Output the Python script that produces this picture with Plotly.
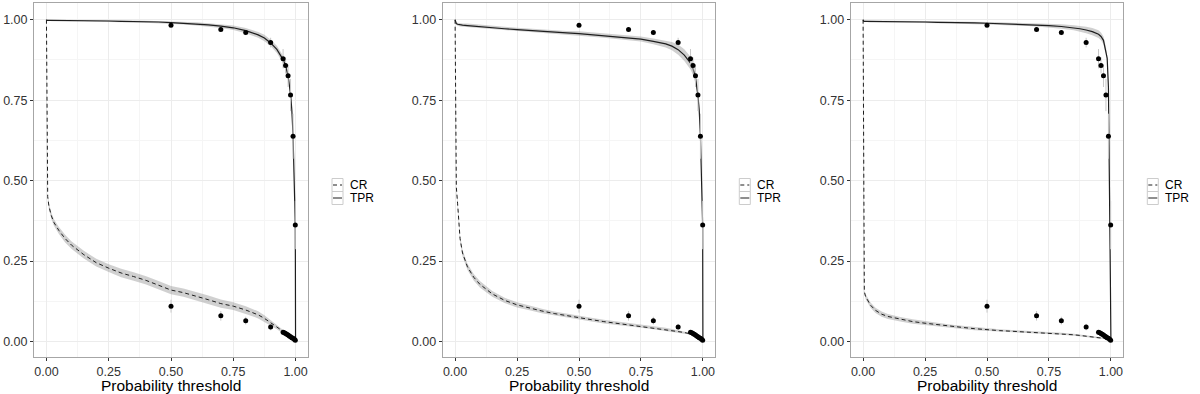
import plotly.graph_objects as go

# ---------------- data ----------------
grid = [0, 0.001, 0.003, 0.005, 0.01, 0.02, 0.03, 0.05, 0.075, 0.1, 0.15, 0.2, 0.25, 0.3, 0.35,
        0.4, 0.45, 0.5, 0.55, 0.6, 0.65, 0.7, 0.75, 0.8, 0.85, 0.875, 0.9, 0.925, 0.95, 0.96,
        0.97, 0.98, 0.985, 0.99, 0.993, 0.996, 0.998, 0.999, 1.0]

p1_tpr = [1.0, 0.998, 0.998, 0.998, 0.998, 0.998, 0.998, 0.998, 0.997, 0.997, 0.997, 0.996, 0.996,
          0.995, 0.995, 0.994, 0.993, 0.991, 0.989, 0.987, 0.984, 0.980, 0.975, 0.966, 0.953, 0.943,
          0.928, 0.908, 0.876, 0.857, 0.826, 0.768, 0.72, 0.64, 0.56, 0.46, 0.39, 0.36, 0.005]
p1_tpr_band = [0, 0.001, 0.002, 0.002, 0.002, 0.002, 0.002, 0.002, 0.002, 0.002, 0.002, 0.002, 0.002,
               0.003, 0.003, 0.003, 0.003, 0.004, 0.004, 0.005, 0.005, 0.006, 0.007, 0.008, 0.009,
               0.01, 0.01, 0.011, 0.012, 0.012, 0.012, 0.012, 0.012, 0.012, 0.01, 0.008, 0.006, 0.005, 0]
p1_cr = [1.0, 0.75, 0.50, 0.45, 0.42, 0.39, 0.37, 0.345, 0.32, 0.30, 0.27, 0.245, 0.228, 0.213,
         0.202, 0.19, 0.175, 0.16, 0.152, 0.142, 0.13, 0.118, 0.11, 0.098, 0.083, 0.072, 0.058,
         0.045, 0.03, 0.025, 0.02, 0.015, 0.012, 0.01, 0.008, 0.007, 0.006, 0.005, 0.004]
p1_cr_band = [0, 0, 0.005, 0.008, 0.01, 0.01, 0.01, 0.011, 0.012, 0.012, 0.012, 0.012, 0.012, 0.013,
              0.013, 0.013, 0.013, 0.013, 0.013, 0.013, 0.013, 0.013, 0.012, 0.012, 0.011, 0.01,
              0.009, 0.007, 0.005, 0.004, 0.003, 0.003, 0.002, 0.002, 0.002, 0.001, 0.001, 0.001, 0]

p2_tpr = [1.0, 0.995, 0.99, 0.988, 0.986, 0.984, 0.983, 0.982, 0.98, 0.978, 0.975, 0.972, 0.969,
          0.966, 0.963, 0.961, 0.959, 0.957, 0.954, 0.951, 0.948, 0.944, 0.94, 0.933, 0.925, 0.918,
          0.907, 0.89, 0.865, 0.848, 0.82, 0.765, 0.72, 0.64, 0.56, 0.46, 0.39, 0.36, 0.005]
p2_tpr_band = [0, 0.002, 0.004, 0.005, 0.005, 0.005, 0.005, 0.006, 0.006, 0.006, 0.006, 0.006, 0.006,
               0.006, 0.006, 0.006, 0.006, 0.007, 0.007, 0.007, 0.007, 0.008, 0.008, 0.009, 0.011,
               0.013, 0.016, 0.018, 0.02, 0.02, 0.018, 0.015, 0.013, 0.01, 0.008, 0.006, 0.005, 0.004, 0]
p2_cr = [1.0, 0.8, 0.55, 0.48, 0.43, 0.32, 0.275, 0.232, 0.2, 0.178, 0.148, 0.128, 0.114, 0.104,
         0.095, 0.087, 0.08, 0.074, 0.068, 0.062, 0.057, 0.053, 0.048, 0.043, 0.038, 0.035, 0.031,
         0.028, 0.025, 0.022, 0.018, 0.014, 0.011, 0.009, 0.007, 0.006, 0.005, 0.005, 0.004]
p2_cr_band = [0, 0, 0.005, 0.008, 0.01, 0.01, 0.01, 0.01, 0.01, 0.01, 0.009, 0.008, 0.008, 0.007,
              0.007, 0.006, 0.006, 0.006, 0.006, 0.006, 0.006, 0.006, 0.005, 0.005, 0.005, 0.004,
              0.004, 0.004, 0.003, 0.003, 0.003, 0.002, 0.002, 0.002, 0.001, 0.001, 0.001, 0.001, 0]

p3_tpr = [1.0, 0.996, 0.995, 0.995, 0.995, 0.995, 0.995, 0.995, 0.995, 0.994, 0.994, 0.993, 0.993,
          0.992, 0.992, 0.991, 0.990, 0.989, 0.988, 0.987, 0.986, 0.984, 0.982, 0.979, 0.975, 0.972,
          0.968, 0.963, 0.955, 0.948, 0.936, 0.905, 0.88, 0.79, 0.62, 0.36, 0.18, 0.09, 0.005]
p3_tpr_band = [0, 0.002, 0.003, 0.003, 0.003, 0.003, 0.003, 0.003, 0.003, 0.003, 0.003, 0.003, 0.003,
               0.003, 0.003, 0.003, 0.004, 0.004, 0.004, 0.004, 0.005, 0.005, 0.006, 0.007, 0.008,
               0.009, 0.01, 0.011, 0.012, 0.012, 0.012, 0.01, 0.01, 0.01, 0.008, 0.006, 0.004, 0.002, 0]
p3_cr = [1.0, 0.6, 0.2, 0.155, 0.14, 0.125, 0.113, 0.097, 0.085, 0.078, 0.069, 0.062, 0.057, 0.052,
         0.048, 0.044, 0.04, 0.036, 0.034, 0.032, 0.03, 0.029, 0.027, 0.024, 0.021, 0.019, 0.017,
         0.015, 0.012, 0.011, 0.01, 0.008, 0.007, 0.006, 0.006, 0.005, 0.005, 0.005, 0.004]
p3_cr_band = [0, 0, 0.004, 0.006, 0.008, 0.008, 0.008, 0.008, 0.008, 0.008, 0.007, 0.007, 0.006,
              0.006, 0.005, 0.005, 0.005, 0.005, 0.004, 0.004, 0.004, 0.004, 0.004, 0.003, 0.003,
              0.003, 0.003, 0.003, 0.002, 0.002, 0.002, 0.002, 0.002, 0.001, 0.001, 0.001, 0.001, 0.001, 0]

# observed points (shared by all panels)
tpr_pts_x = [0.5, 0.7, 0.8, 0.9, 0.95, 0.96, 0.97, 0.98, 0.99, 0.999]
tpr_pts_y = [0.983, 0.970, 0.960, 0.929, 0.879, 0.858, 0.826, 0.766, 0.638, 0.362]
tpr_pts_err = [0.006, 0.006, 0.008, 0.015, 0.03, 0.025, 0.035, 0.05, 0.07, 0.075]

cr_pts_x = [0.5, 0.7, 0.8, 0.9, 0.95, 0.955, 0.96, 0.965, 0.97, 0.975, 0.98, 0.985, 0.99, 0.995, 0.999]
cr_pts_y = [0.110, 0.080, 0.065, 0.045, 0.029, 0.027, 0.025, 0.023, 0.020, 0.017, 0.015, 0.012,
            0.010, 0.007, 0.004]
cr_pts_err = [0.02, 0.015, 0.012, 0.01, 0.003, 0.003, 0.003, 0.003, 0.003, 0.002, 0.002, 0.002,
              0.002, 0.001, 0.001]

x_ticks = [0, 0.25, 0.5, 0.75, 1.0]
x_tick_labels = ["0.00", "0.25", "0.50", "0.75", "1.00"]
y_ticks = [0, 0.25, 0.5, 0.75, 1.0]
y_tick_labels = ["0.00", "0.25", "0.50", "0.75", "1.00"]
legend_labels = ["CR", "TPR"]
x_title = "Probability threshold"

panels = [
    (p1_tpr, p1_tpr_band, p1_cr, p1_cr_band),
    (p2_tpr, p2_tpr_band, p2_cr, p2_cr_band),
    (p3_tpr, p3_tpr_band, p3_cr, p3_cr_band),
]

# ---------------- layout geometry (pixels) ----------------
W, H = 1200, 394
panel_px = [(34, 308), (442.7, 715.3), (850.7, 1123.3)]
top_px, bot_px = 3, 357

LINE = "#1e1e1e"
BAND = "rgba(150,150,150,0.45)"
ERR = "#c8c8c8"
FONT = "Liberation Sans, Arial, Helvetica, sans-serif"

fig = go.Figure()
layout = dict(
    width=W, height=H, margin=dict(l=0, r=0, t=0, b=0, pad=0, autoexpand=False),
    paper_bgcolor="white", plot_bgcolor="white", showlegend=False,
    font=dict(family=FONT, color="#333333"),
)
shapes = []
annotations = []

def band_poly(xs, mean, half):
    hi = [m + h for m, h in zip(mean, half)]
    lo = [m - h for m, h in zip(mean, half)]
    return list(xs) + list(xs)[::-1], hi + lo[::-1]

for i, (tpr, tpr_b, cr, cr_b) in enumerate(panels):
    sfx = "" if i == 0 else str(i + 1)
    xa, ya = "x" + sfx, "y" + sfx
    # ribbons
    for mean, half in ((cr, cr_b), (tpr, tpr_b)):
        bx, by = band_poly(grid, mean, half)
        fig.add_trace(go.Scatter(x=bx, y=by, xaxis=xa, yaxis=ya, mode="lines", fill="toself",
                                 fillcolor=BAND, line=dict(width=0), hoverinfo="skip"))
    # lines
    fig.add_trace(go.Scatter(x=grid, y=cr, xaxis=xa, yaxis=ya, mode="lines", name="CR",
                             line=dict(color=LINE, width=1, dash="4px,3px")))
    fig.add_trace(go.Scatter(x=grid, y=tpr, xaxis=xa, yaxis=ya, mode="lines", name="TPR",
                             line=dict(color=LINE, width=1.2)))
    # observed points with error bars
    for px_, py_, pe in ((tpr_pts_x, tpr_pts_y, tpr_pts_err), (cr_pts_x, cr_pts_y, cr_pts_err)):
        fig.add_trace(go.Scatter(x=px_, y=py_, xaxis=xa, yaxis=ya, mode="markers",
                                 marker=dict(color="black", size=5),
                                 error_y=dict(type="data", array=pe, color=ERR, thickness=1, width=0)))

    x0, x1 = panel_px[i]
    axis_common = dict(
        showline=True, mirror=True, linecolor="#a6a6a6", linewidth=1,
        ticks="outside", ticklen=3, tickcolor="#333333", tickwidth=1,
        showgrid=True, gridcolor="#ececec", gridwidth=1, zeroline=False,
        minor=dict(dtick=0.125, showgrid=True, gridcolor="#f5f5f5", gridwidth=0.6, ticks=""),
        tickfont=dict(size=12.5, color="#333333", family=FONT),
        fixedrange=True, automargin=False,
    )
    layout["xaxis" + sfx] = dict(axis_common, domain=[x0 / W, x1 / W], range=[-0.05, 1.05],
                                 tickvals=x_ticks, ticktext=x_tick_labels, anchor=ya)
    layout["yaxis" + sfx] = dict(axis_common, domain=[1 - bot_px / H, 1 - top_px / H],
                                 range=[-0.048, 1.052], tickvals=y_ticks, ticktext=y_tick_labels,
                                 anchor=xa)
    # axis title
    annotations.append(dict(text=x_title, xref="paper", yref="paper", x=(x0 + x1) / 2 / W,
                            y=1 - 385 / H, xanchor="center", yanchor="middle", showarrow=False,
                            font=dict(size=15.5, color="black", family=FONT)))
    # manual legend (ggplot-style keys)
    kx0, kx1 = x1 + 24, x1 + 35
    rows = [(178.5, 191.5), (191.5, 204.5)]
    for (ry0, ry1), lab, dash in zip(rows, legend_labels, ["4px,3px", "solid"]):
        shapes.append(dict(type="rect", xref="paper", yref="paper", x0=kx0 / W, x1=kx1 / W,
                           y0=1 - ry1 / H, y1=1 - ry0 / H, line=dict(color="#cccccc", width=1),
                           fillcolor="white"))
        ym = 1 - (ry0 + ry1) / 2 / H
        shapes.append(dict(type="line", xref="paper", yref="paper", x0=(kx0 + 1) / W,
                           x1=(kx1 - 1) / W, y0=ym, y1=ym, line=dict(color=LINE, width=1, dash=dash)))
        annotations.append(dict(text=lab, xref="paper", yref="paper", x=(kx1 + 5) / W, y=ym,
                                xanchor="left", yanchor="middle", showarrow=False,
                                font=dict(size=12, color="black", family=FONT)))

layout["shapes"] = shapes
layout["annotations"] = annotations
fig.update_layout(**layout)
fig.write_html("out.html", config={"displayModeBar": False},
               post_script="document.body.style.margin='0';document.body.style.overflow='hidden';")
